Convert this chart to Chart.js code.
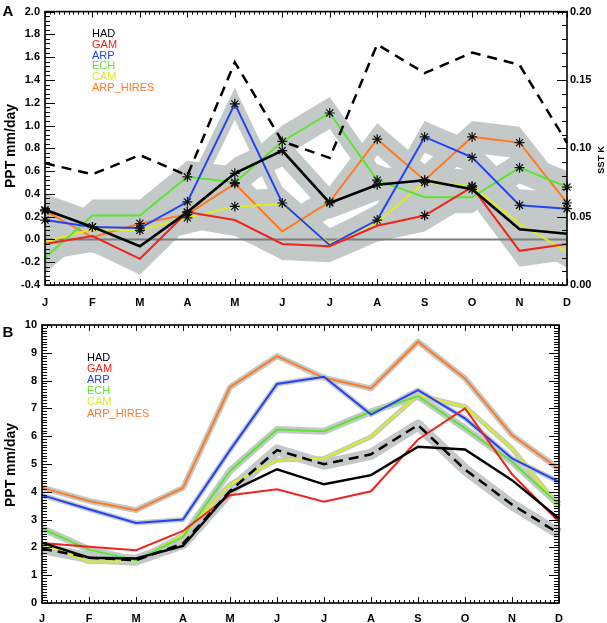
<!DOCTYPE html>
<html><head><meta charset="utf-8">
<script src="https://cdn.jsdelivr.net/npm/chart.js@4/dist/chart.umd.min.js"></script>
<style>
html,body{margin:0;padding:0;background:#fff;width:607px;height:623px;overflow:hidden}
canvas{position:absolute;left:0}
#ca{top:0}
#cb{top:311px}
</style></head><body>
<canvas id="ca" width="607" height="311"></canvas>
<canvas id="cb" width="607" height="312"></canvas>
<script>
// ---------------- DATA ----------------
const months = ['J','F','M','A','M','J','J','A','S','O','N','D'];
const modelNames = ['HAD','GAM','ARP','ECH','CAM','ARP_HIRES'];

// Panel A: precipitation response, mm/day
const anomHAD       = [0.26, 0.11, -0.06, 0.24, 0.58, 0.78, 0.32, 0.48, 0.52, 0.44, 0.09, 0.05];
const anomGAM       = [-0.04, 0.03, -0.17, 0.24, 0.17, -0.04, -0.06, 0.12, 0.21, 0.46, -0.10, -0.04];
const anomARP       = [0.17, 0.11, 0.10, 0.33, 1.19, 0.32, -0.05, 0.17, 0.90, 0.72, 0.30, 0.27];
const anomECH       = [-0.16, 0.21, 0.21, 0.55, 0.50, 0.86, 1.11, 0.52, 0.37, 0.37, 0.63, 0.46];
const anomCAM       = [-0.02, 0.09, 0.08, 0.19, 0.29, 0.31, -0.04, 0.15, 0.50, 0.47, 0.14, -0.11];
const anomARP_HIRES = [0.25, 0.02, 0.14, 0.22, 0.49, 0.07, 0.33, 0.88, 0.52, 0.90, 0.85, 0.32];
// significance flags (asterisks)
const sigHAD       = [1,1,0,1,1,1,1,1,1,1,0,0];
const sigGAM       = [0,0,0,1,0,0,0,0,1,1,0,0];
const sigARP       = [1,1,1,1,1,1,0,1,1,1,1,1];
const sigECH       = [0,0,0,1,1,1,1,1,0,0,1,1];
const sigCAM       = [0,0,1,1,1,0,0,0,1,1,0,0];
const sigARP_HIRES = [1,0,1,1,1,0,1,1,1,1,1,1];
// SST response, K (right axis)
const sstResponse = [0.089, 0.081, 0.095, 0.080, 0.163, 0.105, 0.093, 0.176, 0.155, 0.170, 0.161, 0.104];
// ensemble spread (mm/day) shown as grey envelope
const spreadA = 0.14;

// Panel B: precipitation climatology, mm/day
const climHAD       = [2.17, 1.63, 1.60, 2.05, 4.00, 4.81, 4.27, 4.60, 5.62, 5.52, 4.42, 3.04];
const climGAM       = [2.16, 2.02, 1.90, 2.59, 3.88, 4.09, 3.64, 4.02, 5.88, 7.00, 4.63, 2.92];
const climARP       = [3.88, 3.37, 2.88, 3.00, 5.50, 7.88, 8.14, 6.78, 7.66, 6.64, 5.20, 4.36];
const climECH       = [2.68, 1.92, 1.54, 2.38, 4.75, 6.24, 6.18, 6.88, 7.44, 6.28, 5.08, 3.54];
const climCAM       = [2.14, 1.48, 1.51, 2.44, 4.27, 5.14, 5.20, 5.98, 7.48, 7.06, 5.56, 3.46];
const climARP_HIRES = [4.15, 3.67, 3.34, 4.14, 7.76, 8.88, 8.10, 7.72, 9.40, 8.08, 6.04, 4.82];
const climObs       = [1.96, 1.63, 1.54, 2.14, 4.03, 5.50, 4.99, 5.35, 6.40, 4.80, 3.54, 2.50];

// tick labels
const ticksA   = [-0.4,-0.2,0.0,0.2,0.4,0.6,0.8,1.0,1.2,1.4,1.6,1.8,2.0];
const ticksSST = [0.00,0.05,0.10,0.15,0.20];
const ticksB   = [0,1,2,3,4,5,6,7,8,9,10];

// ---------------- STYLE ----------------
const FONT = "'Liberation Sans', Arial, Helvetica, sans-serif";
const GRAY = '#c3c9c8';
const COLORS = {HAD:'#000000', GAM:'#f1231d', ARP:'#2342f5', ECH:'#5fe332', CAM:'#dcec22', ARP_HIRES:'#ff7a24'};

const anomA = {HAD:anomHAD, GAM:anomGAM, ARP:anomARP, ECH:anomECH, CAM:anomCAM, ARP_HIRES:anomARP_HIRES};
const sigA  = {HAD:sigHAD, GAM:sigGAM, ARP:sigARP, ECH:sigECH, CAM:sigCAM, ARP_HIRES:sigARP_HIRES};
const climB = {HAD:climHAD, GAM:climGAM, ARP:climARP, ECH:climECH, CAM:climCAM, ARP_HIRES:climARP_HIRES};
const haloB = {HAD:0, GAM:0, ARP:5, ECH:7, CAM:5, ARP_HIRES:6};

function line(ctx,x1,y1,x2,y2){ctx.beginPath();ctx.moveTo(x1,y1);ctx.lineTo(x2,y2);ctx.stroke();}

const decor = {
  id:'decor',
  beforeDatasetsDraw(chart){ chart.$zeroDone=false; },
  beforeDatasetDraw(chart,args,o){
    if(o.zeroLine && !chart.$zeroDone && chart.data.datasets[args.index].isLine){
      const ctx=chart.ctx, ca=chart.chartArea, y=chart.scales.y.getPixelForValue(0);
      ctx.save(); ctx.strokeStyle='#7d7d7d'; ctx.lineWidth=2;
      line(ctx,ca.left,y,ca.right,y); ctx.restore();
      chart.$zeroDone=true;
    }
  },
  afterDraw(chart,args,o){
    const ctx=chart.ctx, ca=chart.chartArea, S=chart.scales;
    ctx.save();
    ctx.strokeStyle='#000'; ctx.lineWidth=1;
    // x ticks, top & bottom
    const xs=S.x, nx=(months.length-1)*o.xDiv;
    for(let i=0;i<=nx;i++){
      const px=Math.round(xs.getPixelForValue(i/o.xDiv))+0.5;
      const len=(i%o.xDiv===0)?6:3;
      line(ctx,px,ca.bottom,px,ca.bottom-len);
      line(ctx,px,ca.top,px,ca.top+len);
    }
    // left ticks
    const L=o.left, ls=S[L.scale];
    for(let i=0;i<=L.n;i++){
      const py=Math.round(ls.getPixelForValue(L.min+i*L.step))+0.5;
      const len=(i%L.majorEvery===0)?10:5;
      line(ctx,ca.left,py,ca.left+len,py);
    }
    const R=o.right, rs=S[R.scale];
    for(let i=0;i<=R.n;i++){
      const py=Math.round(rs.getPixelForValue(R.min+i*R.step))+0.5;
      const len=(i%R.majorEvery===0)?10:5;
      line(ctx,ca.right,py,ca.right-len,py);
    }
    // frame
    ctx.lineWidth=1.6;
    ctx.strokeRect(ca.left,ca.top,ca.right-ca.left,ca.bottom-ca.top);
    // titles
    ctx.fillStyle='#000';
    for(const t of o.titles){
      ctx.save(); ctx.translate(t.x,t.y); ctx.rotate(t.rot||0);
      ctx.font=t.font; ctx.textAlign='center'; ctx.textBaseline='middle';
      ctx.fillText(t.text,0,0); ctx.restore();
    }
    // legend
    ctx.font='11px '+FONT; ctx.textAlign='left'; ctx.textBaseline='middle';
    modelNames.forEach((m,i)=>{
      ctx.fillStyle=COLORS[m];
      ctx.fillText(m,o.legend.x,o.legend.y+i*o.legend.dy);
    });
    ctx.restore();
  }
};

const tickFont={family:FONT,size:11,weight:'bold'};
function xScale(pad,h){
  return {type:'category',labels:months,offset:false,
    grid:{display:false,drawTicks:false},border:{display:false},
    ticks:{font:tickFont,color:'#000',padding:pad,maxRotation:0,autoSkip:false},
    afterFit:s=>{s.height=h;}};
}
function setTicks(arr){return s=>{s.ticks=arr.map(v=>({value:v}));};}

// ---------------- CHART A ----------------
const dsA=[];
modelNames.forEach(m=>{
  dsA.push({data:anomA[m].map(v=>v+spreadA),fill:'+1',backgroundColor:GRAY,borderWidth:0,pointRadius:0,order:3});
  dsA.push({data:anomA[m].map(v=>v-spreadA),fill:false,borderWidth:0,pointRadius:0,order:3});
});
modelNames.forEach(m=>{
  dsA.push({label:m,isLine:true,data:anomA[m],borderColor:COLORS[m],borderWidth:m==='HAD'?2.6:2,
    pointStyle:'star',pointRadius:sigA[m].map(s=>s?5:0),pointBorderColor:'#111',pointBackgroundColor:'#111',
    pointBorderWidth:1.2,order:1,tension:0});
});
dsA.push({isLine:true,data:sstResponse,yAxisID:'y2',borderColor:'#000',borderWidth:2.5,borderDash:[10,7],pointRadius:0,order:0});

new Chart(document.getElementById('ca'),{
  type:'line',
  data:{labels:months,datasets:dsA},
  options:{
    responsive:false,animation:false,devicePixelRatio:1,events:[],
    layout:{padding:{top:7,left:0,right:0,bottom:0}},
    plugins:{legend:{display:false},tooltip:{enabled:false},
      decor:{zeroLine:true,xDiv:10,
        left:{scale:'y',min:-0.4,step:0.04,n:60,majorEvery:5},
        right:{scale:'y2',min:0,step:0.01,n:20,majorEvery:5},
        legend:{x:92,y:34,dy:10.8},
        titles:[
          {text:'A',x:8,y:12,font:'bold 15px '+FONT},
          {text:'PPT mm/day',x:11,y:146,rot:-Math.PI/2,font:'bold 14px '+FONT},
          {text:'SST K',x:601,y:160,rot:-Math.PI/2,font:'bold 9.5px '+FONT}
        ]}},
    scales:{
      x:xScale(11,26),
      y:{position:'left',min:-0.4,max:2.0,afterBuildTicks:setTicks(ticksA),
        grid:{display:false,drawTicks:false},border:{display:false},
        ticks:{font:tickFont,color:'#000',padding:5,callback:v=>v.toFixed(1)},
        afterFit:s=>{s.width=45;}},
      y2:{position:'right',min:0,max:0.2,afterBuildTicks:setTicks(ticksSST),
        grid:{display:false,drawTicks:false},border:{display:false},
        ticks:{font:tickFont,color:'#000',padding:3,callback:v=>v.toFixed(2)},
        afterFit:s=>{s.width=40;}}
    }
  },
  plugins:[decor]
});

// ---------------- CHART B ----------------
const dsB=[];
modelNames.forEach(m=>{
  if(haloB[m]>0) dsB.push({data:climB[m],borderColor:GRAY,borderWidth:haloB[m],pointRadius:0,order:3,borderJoinStyle:'round'});
});
dsB.push({data:climObs,borderColor:GRAY,borderWidth:11,pointRadius:0,order:3,borderJoinStyle:'round'});
modelNames.forEach(m=>{
  dsB.push({label:m,isLine:true,data:climB[m],borderColor:COLORS[m],borderWidth:m==='HAD'?2.4:2,pointRadius:0,order:1});
});
dsB.push({isLine:true,data:climObs,borderColor:'#000',borderWidth:2.5,borderDash:[10,6],pointRadius:0,order:0});

new Chart(document.getElementById('cb'),{
  type:'line',
  data:{labels:months,datasets:dsB},
  options:{
    responsive:false,animation:false,devicePixelRatio:1,events:[],
    layout:{padding:{top:14,left:0,right:48,bottom:0}},
    plugins:{legend:{display:false},tooltip:{enabled:false},
      decor:{zeroLine:false,xDiv:10,
        left:{scale:'y',min:0,step:0.1,n:100,majorEvery:10},
        right:{scale:'y',min:0,step:0.1,n:100,majorEvery:10},
        legend:{x:87,y:47,dy:11.1},
        titles:[
          {text:'B',x:8,y:22,font:'bold 15px '+FONT},
          {text:'PPT mm/day',x:11,y:154,rot:-Math.PI/2,font:'bold 14px '+FONT}
        ]}},
    scales:{
      x:xScale(9,20),
      y:{position:'left',min:0,max:10,afterBuildTicks:setTicks(ticksB),
        grid:{display:false,drawTicks:false},border:{display:false},
        ticks:{font:tickFont,color:'#000',padding:5,callback:v=>String(v)},
        afterFit:s=>{s.width=42;}}
    }
  },
  plugins:[decor]
});
</script>
</body></html>
